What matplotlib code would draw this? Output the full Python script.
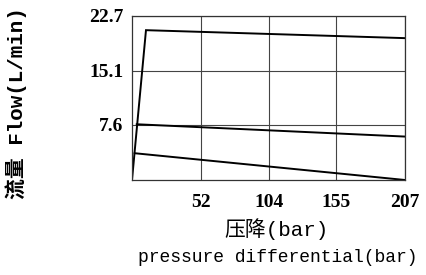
import matplotlib.pyplot as plt

# curves: pressure (bar) vs flow (L/min)
p_top = [0, 10.6, 207]
q_top = [0, 20.7, 19.6]
p_mid = [3.6, 207]
q_mid = [7.7, 6.0]
p_low = [2.0, 207]
q_low = [3.7, 0]

x_ticks = [52, 104, 155, 207]
y_ticks = [7.6, 15.1, 22.7]

W, H = 426, 275
fig = plt.figure(figsize=(W / 100, H / 100), dpi=100)
ax = fig.add_axes([132 / W, 1 - 180 / H, (405 - 132) / W, (180 - 15.7) / H])

for p, q in [(p_top, q_top), (p_mid, q_mid), (p_low, q_low)]:
    ax.plot(p, q, color="black", lw=1.4, solid_joinstyle="miter")

ax.set_xlim(0, 207)
ax.set_ylim(0, 22.7)
ax.set_xticks(x_ticks)
ax.set_yticks(y_ticks)
ax.set_xticklabels([str(v) for v in x_ticks])
ax.set_yticklabels([str(v) for v in y_ticks])
ax.grid(True, color="#444444", lw=0.8)
for s in ax.spines.values():
    s.set_color("#333333")
    s.set_linewidth(0.9)
ax.tick_params(length=0, labelsize=14, pad=6)
ax.tick_params(axis="x", pad=10)
for lbl in ax.get_xticklabels() + ax.get_yticklabels():
    lbl.set_family("Liberation Serif")
    lbl.set_fontweight("bold")

fam = ["Liberation Mono", "Noto Sans CJK SC"]
fig.text(276 / W, 1 - 229 / H, "压降(bar)", family=fam, fontsize=15,
         ha="center", va="center")
fig.text(278 / W, 1 - 257 / H, "pressure differential(bar)", family=fam,
         fontsize=13, ha="center", va="center")
fig.text(16 / W, 1 - 103 / H, "流量 Flow(L/min)", family=fam, fontsize=15,
         fontweight="bold", rotation=90, ha="center", va="center")

fig.savefig("out.png", dpi=100)
